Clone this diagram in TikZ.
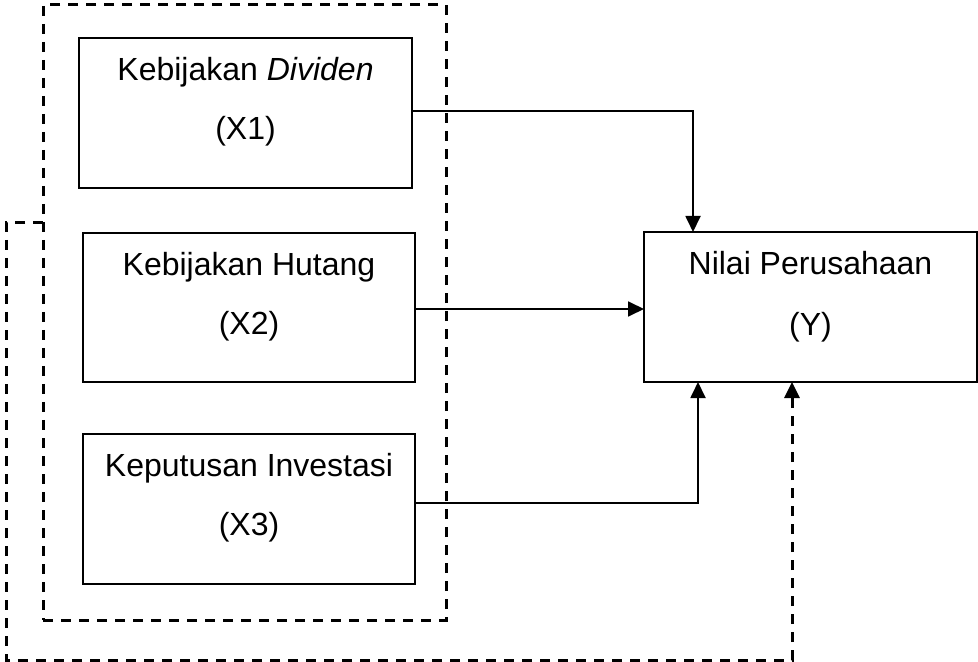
\documentclass[tikz,border=0pt]{standalone}
\usepackage{fontspec}
\setmainfont{Liberation Sans}
\usetikzlibrary{arrows.meta}

\begin{document}
\begin{tikzpicture}[x=0.5pt, y=-0.5pt,
	kotak/.style={draw, rectangle, line width=1.1pt, inner sep=0pt, outer sep=0pt},
	teks/.style={font=\fontsize{16}{19}\selectfont, inner sep=0pt},
	panah/.style={line width=0.9pt, -{Triangle[length=8pt, width=7.5pt]}},
	putus/.style={line width=1.5pt, dash pattern=on 5pt off 4pt}]

	\useasboundingbox (0,0) rectangle (978,662);

	% Variabel X
	\node[kotak, putus, minimum width=201.5pt, minimum height=307.5pt] (grup) at (244.5,312.5) {};

	\node[kotak, minimum width=166.5pt, minimum height=75pt] (X1) at (245.5,113) {};
	\node[teks] (X1a) at (245.5,72) {Kebijakan \textit{Dividen}};
	\node[teks] (X1b) at (245.5,131) {(X1)};

	\node[kotak, minimum width=166pt, minimum height=74.5pt] (X2) at (249,307.5) {};
	\node[teks] (X2a) at (249,267) {Kebijakan Hutang};
	\node[teks] (X2b) at (249,326) {(X2)};

	\node[kotak, minimum width=166pt, minimum height=75pt] (X3) at (249,509) {};
	\node[teks] (X3a) at (249,468) {Keputusan Investasi};
	\node[teks] (X3b) at (249,527) {(X3)};

	% Variabel Y
	\node[kotak, minimum width=166.5pt, minimum height=75pt] (Y) at (810.5,307) {};
	\node[teks] (Ya) at (810.5,263) {Nilai Perusahaan};
	\node[teks] (Yb) at (810.5,327) {(Y)};

	% Panah
	\draw[panah] (X1.east |- 0,111) -| (693,0 |- Y.north);
	\draw[panah] (X2.east |- 0,309) -- (Y.west |- 0,309);
	\draw[panah] (X3.east |- 0,503) -| (698,0 |- Y.south);

	\draw[putus, -{Triangle[length=8pt, width=7.5pt]}] (grup.west |- 0,223) -- (6,223) -- (6,660) -- (792,660) -- (792,0 |- Y.south);

\end{tikzpicture}
\end{document}
